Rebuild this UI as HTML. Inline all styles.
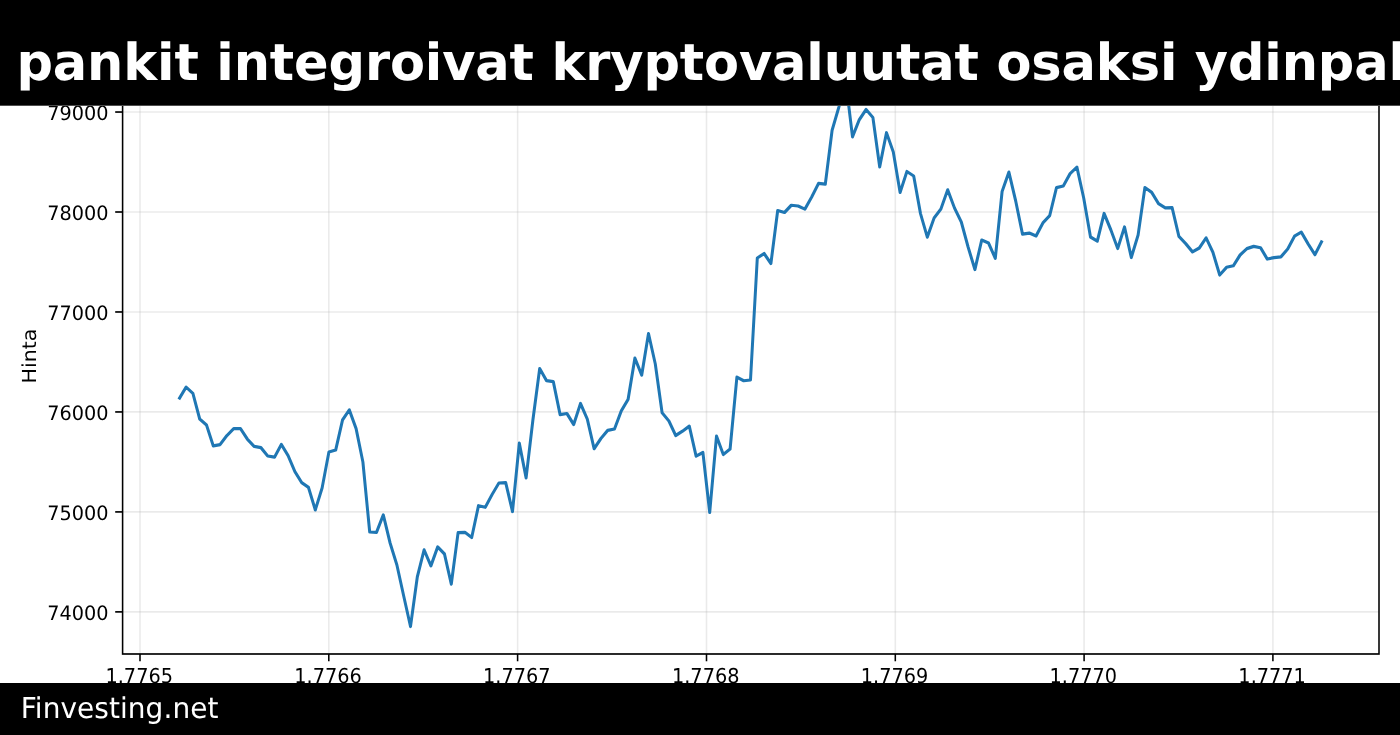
<!DOCTYPE html>
<html lang="fi">
<head>
<meta charset="utf-8">
<title>Finvesting.net</title>
<style>
html,body{margin:0;padding:0;background:#fff;}
body{text-rendering:geometricPrecision;width:1400px;height:735px;overflow:hidden;position:relative;font-family:"DejaVu Sans","Liberation Sans",sans-serif;}
#chart{position:absolute;left:0;top:0;width:1400px;height:735px;display:block;}
#chart text{font-family:"DejaVu Sans","Liberation Sans",sans-serif;font-size:19.3px;fill:#000;text-rendering:geometricPrecision;}
#hdr{position:absolute;left:0;top:0;width:1400px;height:106px;background:linear-gradient(#000,#000) 0 0/100% 105px no-repeat,#4d4d4d;overflow:hidden;}
#hdr h1{position:absolute;left:-635.8px;top:34px;margin:0;white-space:nowrap;color:#fff;font-weight:bold;font-size:51px;line-height:60px;letter-spacing:-0.13px;}
#ftr{position:absolute;left:0;top:683px;width:1400px;height:52px;background:#000;overflow:hidden;}
#ftr span{position:absolute;left:20.7px;top:9px;transform:scaleY(1.028);transform-origin:0 26px;color:#fff;font-size:28px;line-height:34px;white-space:nowrap;letter-spacing:0.05px;}
</style>
</head>
<body>
<svg id="chart" width="1400" height="735" viewBox="0 0 1400 735">
<rect x="0" y="0" width="1400" height="735" fill="#ffffff"/>
<g transform="scale(1,1.0686)">
<g stroke="#b0b0b0" stroke-opacity="0.27" stroke-width="1.56" fill="none">
<line x1="140.0" y1="54.65" x2="140.0" y2="612.02"/>
<line x1="328.8" y1="54.65" x2="328.8" y2="612.02"/>
<line x1="517.6" y1="54.65" x2="517.6" y2="612.02"/>
<line x1="706.5" y1="54.65" x2="706.5" y2="612.02"/>
<line x1="895.3" y1="54.65" x2="895.3" y2="612.02"/>
<line x1="1084.1" y1="54.65" x2="1084.1" y2="612.02"/>
<line x1="1272.9" y1="54.65" x2="1272.9" y2="612.02"/>
<line x1="122.6" y1="104.84" x2="1379.0" y2="104.84"/>
<line x1="122.6" y1="198.39" x2="1379.0" y2="198.39"/>
<line x1="122.6" y1="291.94" x2="1379.0" y2="291.94"/>
<line x1="122.6" y1="385.50" x2="1379.0" y2="385.50"/>
<line x1="122.6" y1="479.05" x2="1379.0" y2="479.05"/>
<line x1="122.6" y1="572.60" x2="1379.0" y2="572.60"/>
</g>
<polyline fill="none" stroke="#1f77b4" stroke-width="3.0" stroke-linejoin="round" stroke-linecap="butt" points="178.8,373.83 186.1,362.25 192.9,368.15 199.7,392.10 206.5,397.72 213.3,417.32 220.1,416.06 226.9,407.64 233.7,401.09 240.5,401.09 247.3,410.82 254.1,417.74 260.9,418.87 267.7,426.73 274.5,427.85 281.3,415.96 288.1,426.35 294.9,441.33 301.7,451.62 308.5,456.11 315.3,477.17 322.1,456.67 328.9,422.98 335.7,421.11 342.5,393.04 349.3,383.59 356.1,401.09 362.9,432.34 369.7,497.85 376.5,498.13 383.3,481.85 390.1,508.14 396.9,528.73 403.7,557.74 410.5,586.28 417.3,539.96 424.1,514.60 430.9,529.57 437.7,511.79 444.5,518.44 451.3,546.60 458.1,498.41 464.9,498.13 471.7,502.99 478.5,473.24 485.3,474.73 492.1,462.76 498.9,451.99 505.7,451.57 512.5,478.66 519.3,414.65 526.1,447.22 532.9,393.04 539.7,344.84 546.5,356.17 553.3,357.10 560.1,388.08 566.9,386.95 573.7,397.25 580.5,377.60 587.3,392.29 594.1,419.90 600.9,410.35 607.7,402.77 614.5,401.46 621.3,384.43 628.1,373.76 634.9,335.11 641.7,351.02 648.5,312.09 655.3,340.63 662.1,386.30 668.9,393.97 675.7,407.54 682.5,403.52 689.3,398.75 696.1,426.82 702.9,423.45 709.7,479.60 716.5,408.10 723.3,425.32 730.1,420.18 736.9,352.89 743.7,356.31 750.5,355.61 757.3,241.44 764.1,237.23 770.9,246.58 777.7,196.99 784.5,198.86 791.3,192.07 798.1,192.78 804.9,195.68 811.7,184.35 818.5,171.63 825.3,172.38 832.1,121.84 838.9,100.13 845.7,75.33 852.5,128.11 859.3,112.02 866.1,102.47 872.9,109.96 879.7,156.19 886.5,124.18 893.3,142.24 900.1,180.14 906.9,160.49 913.7,164.70 920.5,199.89 927.3,221.88 934.1,204.01 940.9,195.58 947.7,177.62 954.5,194.65 961.3,207.75 968.1,231.14 974.9,252.20 981.7,224.69 988.5,227.40 995.3,241.72 1002.1,179.21 1008.9,161.05 1015.7,188.10 1022.5,219.07 1029.3,218.14 1036.1,220.76 1042.9,208.68 1049.7,201.76 1056.5,175.56 1063.3,174.06 1070.1,162.46 1076.9,156.37 1083.7,185.29 1090.5,221.79 1097.3,225.62 1104.1,199.79 1110.9,215.23 1117.7,232.55 1124.5,212.33 1131.3,240.97 1138.1,219.91 1144.9,175.46 1151.7,180.05 1158.5,190.53 1165.3,194.51 1172.1,194.23 1178.9,221.22 1185.7,227.96 1192.5,235.73 1199.3,232.08 1206.1,222.63 1212.9,236.10 1219.7,257.35 1226.5,250.14 1233.3,248.74 1240.1,238.63 1246.9,232.64 1253.7,230.54 1260.5,231.80 1267.3,242.40 1274.1,241.06 1280.9,240.41 1287.7,233.02 1294.5,221.04 1301.3,217.29 1308.1,228.15 1314.9,238.35 1322.2,225.07"/>
<rect x="122.6" y="54.65" width="1256.4" height="557.36" fill="none" stroke="#000" stroke-width="1.56"/>
<g stroke="#000" stroke-width="1.56" fill="none">
<line x1="140.0" y1="612.02" x2="140.0" y2="618.82"/>
<line x1="328.8" y1="612.02" x2="328.8" y2="618.82"/>
<line x1="517.6" y1="612.02" x2="517.6" y2="618.82"/>
<line x1="706.5" y1="612.02" x2="706.5" y2="618.82"/>
<line x1="895.3" y1="612.02" x2="895.3" y2="618.82"/>
<line x1="1084.1" y1="612.02" x2="1084.1" y2="618.82"/>
<line x1="1272.9" y1="612.02" x2="1272.9" y2="618.82"/>
<line x1="115.19999999999999" y1="104.84" x2="122.6" y2="104.84"/>
<line x1="115.19999999999999" y1="198.39" x2="122.6" y2="198.39"/>
<line x1="115.19999999999999" y1="291.94" x2="122.6" y2="291.94"/>
<line x1="115.19999999999999" y1="385.50" x2="122.6" y2="385.50"/>
<line x1="115.19999999999999" y1="479.05" x2="122.6" y2="479.05"/>
<line x1="115.19999999999999" y1="572.60" x2="122.6" y2="572.60"/>
</g>
<text transform="translate(139.2,639.43) scale(1,0.995)" text-anchor="middle">1.7765</text>
<text transform="translate(328.0,639.43) scale(1,0.995)" text-anchor="middle">1.7766</text>
<text transform="translate(516.8,639.43) scale(1,0.995)" text-anchor="middle">1.7767</text>
<text transform="translate(705.7,639.43) scale(1,0.995)" text-anchor="middle">1.7768</text>
<text transform="translate(894.5,639.43) scale(1,0.995)" text-anchor="middle">1.7769</text>
<text transform="translate(1083.3,639.43) scale(1,0.995)" text-anchor="middle">1.7770</text>
<text transform="translate(1272.1,639.43) scale(1,0.995)" text-anchor="middle">1.7771</text>
<text transform="translate(108.6,112.23) scale(1,0.968)" text-anchor="end">79000</text>
<text transform="translate(108.6,205.78) scale(1,0.968)" text-anchor="end">78000</text>
<text transform="translate(108.6,299.34) scale(1,0.968)" text-anchor="end">77000</text>
<text transform="translate(108.6,392.89) scale(1,0.968)" text-anchor="end">76000</text>
<text transform="translate(108.6,486.44) scale(1,0.968)" text-anchor="end">75000</text>
<text transform="translate(108.6,579.99) scale(1,0.968)" text-anchor="end">74000</text>
<text transform="translate(36.4,333.15) rotate(-90)" text-anchor="middle">Hinta</text>
</g>
</svg>
<div id="hdr"><h1>Eurooppalaiset suuret pankit integroivat kryptovaluutat osaksi ydinpalveluitaan</h1></div>
<div id="ftr"><span>Finvesting.net</span></div>
</body>
</html>
